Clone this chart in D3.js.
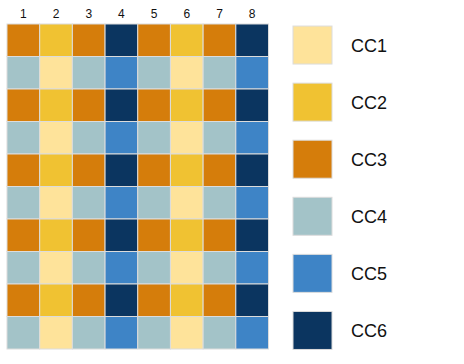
<!DOCTYPE html>
<html><head><meta charset="utf-8">
<script src="https://cdn.jsdelivr.net/npm/d3@7"></script>
<style>body{margin:0;background:#fff}svg{display:block}</style>
</head><body>
<svg id="chart" width="464" height="364"></svg>
<script>
const columns = ["1","2","3","4","5","6","7","8"];
const categories = ["CC1","CC2","CC3","CC4","CC5","CC6"];
const colors = ["#fee39a","#f0c232","#d57d0b","#a3c3c8","#3e84c6","#0b3560"];
const rowA = ["CC3","CC2","CC3","CC6","CC3","CC2","CC3","CC6"];
const rowB = ["CC4","CC1","CC4","CC5","CC4","CC1","CC4","CC5"];
const grid = [rowA,rowB,rowA,rowB,rowA,rowB,rowA,rowB,rowA,rowB];

const svg = d3.select("#chart");
const x = d3.scaleBand().domain(columns).range([7, 268.5]).padding(0);
const y = d3.scaleBand().domain(d3.range(grid.length)).range([24, 349]).padding(0);
const color = d3.scaleOrdinal().domain(categories).range(colors);

const cells = [];
grid.forEach((row, r) => row.forEach((c, i) => cells.push({r, col: columns[i], c})));

svg.append("g").selectAll("rect").data(cells).join("rect")
  .attr("x", d => x(d.col)).attr("y", d => y(d.r))
  .attr("width", x.bandwidth()).attr("height", y.bandwidth())
  .attr("fill", d => color(d.c))
  .attr("stroke", "#dcdcdc").attr("stroke-width", 1);

svg.append("g").selectAll("text").data(columns).join("text")
  .attr("x", d => x(d) + x.bandwidth()/2).attr("y", 18)
  .attr("text-anchor", "middle")
  .attr("font-family", "Liberation Sans, Arial, sans-serif").attr("font-size", 12)
  .attr("fill", "#111").text(d => d);

const ly = d3.scaleBand().domain(categories).range([16.5, 359]).padding(0);
const lg = svg.append("g").selectAll("g").data(categories).join("g")
  .attr("transform", d => `translate(0,${ly(d) + ly.bandwidth()/2})`);
lg.append("rect").attr("x", 293).attr("y", -19).attr("width", 39).attr("height", 38)
  .attr("fill", d => color(d)).attr("stroke", "#dcdcdc").attr("stroke-width", 1);
lg.append("text").attr("x", 351).attr("y", 6.5)
  .attr("font-family", "Liberation Sans, Arial, sans-serif").attr("font-size", 18)
  .attr("fill", "#111").text(d => d);
</script>
</body></html>
